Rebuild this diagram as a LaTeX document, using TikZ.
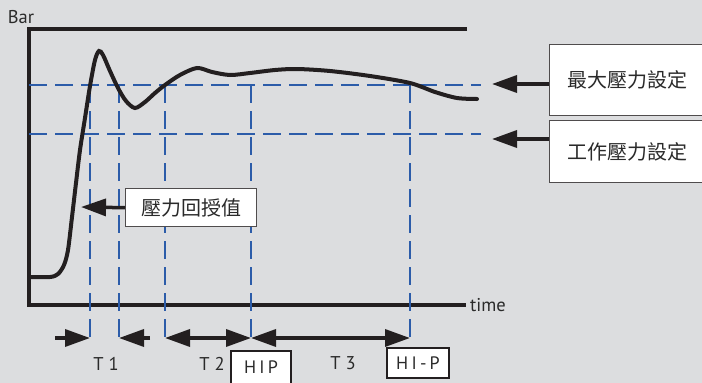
\documentclass[tikz,border=0pt]{standalone}
\usepackage{fontspec}
\setmainfont{PT Sans}
\newfontfamily\cjk{Noto Sans CJK TC}
\usetikzlibrary{arrows.meta}
\definecolor{bgc}{HTML}{DCDDDF}
\definecolor{dashblue}{HTML}{2C5CA9}
\definecolor{ink}{HTML}{231F20}
\definecolor{txt}{HTML}{2A2A2A}
\begin{document}
\begin{tikzpicture}[x=1pt,y=-1pt,
  axis/.style={draw=ink,line width=4pt,line cap=butt,line join=miter},
  curve/.style={draw=ink,line width=4pt,line cap=round},
  guide/.style={draw=dashblue,line width=2.8pt,dash pattern=on 18pt off 8pt},
  bigarrow/.style={draw=ink,line width=3.5pt,-{Triangle[length=25pt,width=17pt]}},
  dblarrow/.style={draw=ink,line width=3.5pt,{Triangle[length=25pt,width=17pt]}-{Triangle[length=25pt,width=17pt]}},
  lbl/.style={inner sep=0pt,text=txt,font=\fontsize{18.5}{20}\selectfont},
  cjkbox/.style={draw=ink!80,line width=1.4pt,fill=white,inner sep=0pt,text=txt,font=\cjk\fontsize{20}{22}\selectfont},
  tagbox/.style={draw=ink,line width=1.6pt,fill=white,inner sep=0pt,text=txt,font=\fontsize{18}{20}\selectfont\addfontfeatures{LetterSpace=18}}
]
\fill[bgc] (0,0) rectangle (702,383);
\useasboundingbox (0,0) rectangle (702,383);

% axes
\coordinate (o) at (29,305);
\coordinate (tl) at (29,29);
\coordinate (tr) at (467,29);
\coordinate (xr) at (466,305);
\node[lbl] (bar) at (21,17) {Bar};
\node[lbl,anchor=west] (time) at (470,305) {time};
\draw[axis] (tr) -- (tl) -- (o) -- (xr);

% guide coordinates
\coordinate (m0) at (29,85);  \coordinate (m1) at (481,85);
\coordinate (w0) at (29,134); \coordinate (w1) at (481,134);
\foreach \i/\x in {1/90,2/119,3/165,4/251,5/410}{
  \coordinate (v\i) at (\x,85);
  \coordinate (u\i) at (\x,342);
  \coordinate (b\i) at (\x,338);
}
\draw[guide] (m0) -- (m1);
\draw[guide] (w0) -- (w1);
\foreach \i in {1,...,5}{\draw[guide] (v\i) -- (u\i);}

% response curve
\draw[curve] plot[smooth,tension=0.5] coordinates {
 (29,277) (50,277) (58,274) (64,265) (68,250) (72,217) (76,183) (80,150)
 (85,118) (90,86) (95,60) (99,51) (103,55) (110,71) (118,88) (126,101)
 (135,108) (145,102) (155,93) (165,85) (180,75) (197,68) (212,72) (230,75)
 (250,73) (275,70) (297,69) (330,71) (370,76) (410,83) (435,92) (457,98) (477,99)};

% set-value boxes
\node[cjkbox,minimum width=156pt,minimum height=71pt,anchor=north west] (maxb) at (549,44) {最大壓力設定};
\node[cjkbox,minimum width=156pt,minimum height=62pt,anchor=north west] (workb) at (549,120) {工作壓力設定};
\coordinate (tipm) at (492,84);
\coordinate (tipw) at (492,139);
\draw[bigarrow] (maxb.west |- tipm) -- (tipm);
\draw[bigarrow] (workb.west |- tipw) -- (tipw);

% feedback box
\node[cjkbox,minimum width=131pt,minimum height=38pt,anchor=north west] (fb) at (125,188) {壓力回授值};
\coordinate (tipf) at (81,207);
\draw[bigarrow] (fb.west) -- (tipf);

% time interval arrows
\coordinate (s1) at (55,338);
\coordinate (s2) at (150,338);
\draw[bigarrow] (s1) -- (b1);
\draw[bigarrow] (s2) -- (b2);
\draw[dblarrow] (b3) -- (b4);
\draw[dblarrow] (b4) -- (b5);

\node[lbl] (t1) at (106,363.5) {T 1};
\node[lbl] (t2) at (212,363.5) {T 2};
\node[lbl] (t3) at (343,363.5) {T 3};
\node[tagbox,minimum width=60pt,minimum height=33pt] (hip) at (261,367.5) {HIP};
\node[tagbox,minimum width=62pt,minimum height=30pt] (hip2) at (418,363) {HI-P};
\end{tikzpicture}
\end{document}
